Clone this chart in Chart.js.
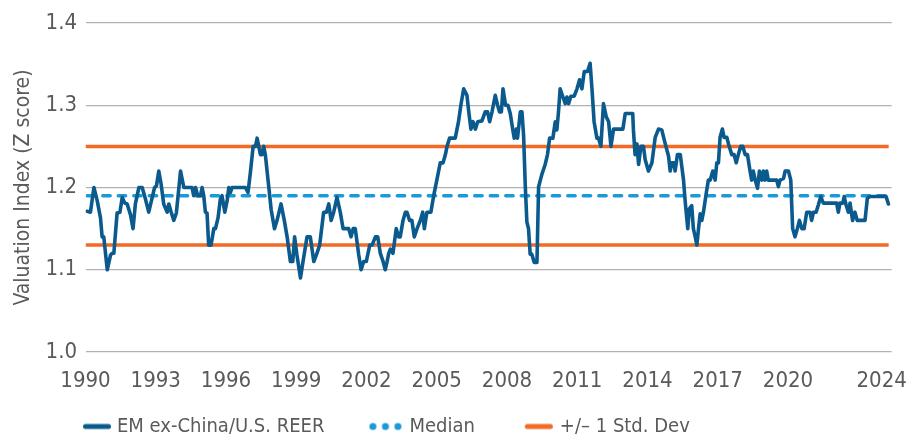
<!DOCTYPE html>
<html>
<head>
<meta charset="utf-8">
<script src="https://cdn.jsdelivr.net/npm/chart.js@4.4.1/dist/chart.umd.min.js"></script>
<style>
  html, body { margin: 0; padding: 0; background: #ffffff; }
  #wrap { width: 909px; height: 434px; }
</style>
</head>
<body>
<div id="wrap"><canvas id="chart" width="909" height="434"></canvas></div>
<script>
// ---------------- data ----------------
const reerYears = [
  1990.07,1990.21,1990.36,1990.50,1990.64,1990.71,1990.78,1990.93,1991.07,1991.14,1991.21,1991.35,1991.47,1991.57,1991.68,1991.78,1991.92,
  1992.03,1992.13,1992.28,1992.42,1992.56,1992.70,1992.85,1992.95,1993.03,1993.13,1993.23,1993.34,1993.49,1993.56,1993.66,1993.77,1993.88,
  1994.06,1994.20,1994.34,1994.55,1994.62,1994.70,1994.79,1994.91,1994.98,1995.05,1995.12,1995.19,1995.26,1995.36,1995.48,1995.55,1995.66,
  1995.76,1995.83,1995.95,1996.05,1996.12,1996.19,1996.26,1996.40,1996.83,1996.94,1997.04,1997.16,1997.26,1997.33,1997.40,1997.47,1997.54,
  1997.61,1997.68,1997.83,1997.93,1998.07,1998.18,1998.35,1998.49,1998.61,1998.75,1998.85,1998.93,1999.03,1999.18,1999.29,1999.46,1999.60,
  1999.75,1999.86,2000.00,2000.17,2000.29,2000.39,2000.49,2000.60,2000.74,2000.88,2001.00,2001.14,2001.24,2001.34,2001.43,2001.52,2001.67,
  2001.77,2001.88,2001.99,2002.14,2002.24,2002.38,2002.48,2002.59,2002.71,2002.80,2002.88,2002.95,2003.02,2003.13,2003.27,2003.37,2003.44,
  2003.56,2003.66,2003.73,2003.84,2003.94,2004.04,2004.16,2004.30,2004.40,2004.47,2004.58,2004.75,2004.87,2005.01,2005.15,2005.27,2005.37,
  2005.44,2005.55,2005.79,2005.93,2006.03,2006.15,2006.29,2006.36,2006.46,2006.55,2006.65,2006.75,2006.93,2007.07,2007.17,2007.26,2007.36,
  2007.50,2007.60,2007.68,2007.76,2007.83,2007.94,2008.04,2008.14,2008.25,2008.31,2008.40,2008.45,2008.57,2008.64,2008.71,2008.78,2008.85,
  2008.92,2008.99,2009.06,2009.16,2009.28,2009.35,2009.49,2009.63,2009.73,2009.82,2009.96,2010.06,2010.13,2010.20,2010.27,2010.39,2010.49,
  2010.56,2010.63,2010.73,2010.87,2010.99,2011.10,2011.20,2011.30,2011.44,2011.55,2011.63,2011.72,2011.84,2011.91,2012.01,2012.12,2012.24,
  2012.34,2012.44,2012.55,2012.95,2013.05,2013.37,2013.40,2013.47,2013.55,2013.62,2013.72,2013.83,2013.90,2014.04,2014.19,2014.33,2014.47,
  2014.61,2014.76,2014.90,2014.97,2015.04,2015.14,2015.18,2015.28,2015.40,2015.54,2015.61,2015.72,2015.79,2015.89,2015.96,2016.04,2016.11,
  2016.18,2016.25,2016.32,2016.39,2016.51,2016.60,2016.68,2016.79,2016.89,2016.96,2017.03,2017.10,2017.20,2017.27,2017.39,2017.46,2017.60,
  2017.70,2017.79,2017.88,2017.98,2018.07,2018.17,2018.27,2018.38,2018.45,2018.52,2018.60,2018.70,2018.78,2018.88,2018.95,2019.02,2019.09,
  2019.16,2019.52,2019.59,2019.66,2019.81,2019.88,2020.02,2020.12,2020.20,2020.30,2020.40,2020.49,2020.59,2020.69,2020.80,2020.94,2021.01,
  2021.09,2021.20,2021.30,2021.40,2021.51,2022.08,2022.15,2022.22,2022.34,2022.40,2022.48,2022.58,2022.65,2022.76,2022.86,2022.96,2023.29,
  2023.39,2023.50,2024.19,2024.29
];
const reerValues = [
  1.171,1.170,1.200,1.184,1.163,1.140,1.140,1.100,1.118,1.120,1.120,1.169,1.170,1.188,1.181,1.180,1.167,
  1.150,1.180,1.200,1.200,1.186,1.170,1.188,1.200,1.202,1.220,1.204,1.180,1.170,1.180,1.170,1.160,1.169,
  1.220,1.200,1.200,1.200,1.190,1.200,1.190,1.190,1.200,1.190,1.170,1.169,1.130,1.130,1.150,1.150,1.163,
  1.186,1.190,1.170,1.184,1.200,1.194,1.200,1.200,1.200,1.194,1.218,1.250,1.250,1.260,1.250,1.240,1.240,
  1.250,1.240,1.200,1.173,1.150,1.160,1.180,1.160,1.140,1.110,1.110,1.140,1.118,1.090,1.110,1.140,1.140,
  1.110,1.118,1.130,1.170,1.170,1.180,1.160,1.170,1.188,1.170,1.150,1.150,1.150,1.140,1.150,1.150,1.118,
  1.100,1.110,1.110,1.130,1.130,1.140,1.140,1.120,1.110,1.100,1.110,1.120,1.125,1.120,1.150,1.140,1.140,
  1.160,1.170,1.170,1.160,1.160,1.140,1.150,1.160,1.170,1.150,1.170,1.170,1.190,1.210,1.230,1.230,1.240,
  1.250,1.260,1.260,1.280,1.300,1.320,1.312,1.294,1.271,1.280,1.271,1.280,1.281,1.292,1.292,1.280,1.292,
  1.312,1.300,1.292,1.292,1.320,1.300,1.300,1.290,1.270,1.260,1.271,1.260,1.292,1.292,1.263,1.203,1.158,
  1.150,1.119,1.119,1.109,1.109,1.201,1.216,1.228,1.240,1.260,1.260,1.280,1.270,1.292,1.320,1.310,1.302,
  1.310,1.302,1.311,1.311,1.320,1.331,1.320,1.341,1.341,1.351,1.320,1.280,1.260,1.260,1.250,1.302,1.286,
  1.280,1.250,1.271,1.271,1.290,1.290,1.270,1.240,1.253,1.228,1.250,1.250,1.234,1.220,1.230,1.261,1.271,
  1.270,1.253,1.238,1.220,1.230,1.230,1.220,1.240,1.240,1.209,1.183,1.150,1.174,1.178,1.150,1.140,1.130,
  1.150,1.168,1.160,1.170,1.193,1.209,1.209,1.220,1.209,1.230,1.230,1.261,1.271,1.261,1.261,1.253,1.240,
  1.240,1.230,1.240,1.250,1.250,1.240,1.240,1.220,1.209,1.220,1.209,1.199,1.220,1.209,1.220,1.209,1.220,
  1.209,1.209,1.201,1.209,1.211,1.220,1.220,1.209,1.150,1.140,1.150,1.160,1.150,1.150,1.170,1.170,1.160,
  1.170,1.170,1.179,1.189,1.181,1.181,1.170,1.181,1.181,1.189,1.179,1.170,1.181,1.160,1.170,1.160,1.160,
  1.187,1.189,1.189,1.180
];
const medianValue = 1.19;
const stdDevUpper = 1.25;
const stdDevLower = 1.13;
const refLineYears = [1990, 2024.3];
const xTickYears = [1990, 1993, 1996, 1999, 2002, 2005, 2008, 2011, 2014, 2017, 2020, 2024];
const yTickValues = [1.0, 1.1, 1.2, 1.3, 1.4];
const seriesLabels = ['EM ex-China/U.S. REER', 'Median', '+/\u2013 1 Std. Dev'];
const yAxisTitle = 'Valuation Index (Z score)';

// ---------------- styling ----------------
const FONT = "'DejaVu Sans Condensed', 'Liberation Sans Narrow', sans-serif";
const TEXT = '#5a5a5a';
const C_MAIN = '#0b5a8e';
const C_MED = '#1a9ad6';
const C_STD = '#f26a24';
const LEG_BOX = 70;

Chart.defaults.font.family = FONT;
Chart.defaults.color = TEXT;

function makeMarker(kind, color, start, len) {
  const c = LEG_BOX / 2;
  const half = Math.ceil(Math.max(Math.abs(start - c), Math.abs(start + len - c))) + 4;
  const cv = document.createElement('canvas');
  cv.width = half * 2; cv.height = 12;
  const g = cv.getContext('2d');
  const ox = half - c;
  g.strokeStyle = color; g.fillStyle = color; g.lineCap = 'round';
  if (kind === 'line') {
    g.lineWidth = 5;
    g.beginPath(); g.moveTo(start + ox + 2.5, 6); g.lineTo(start + len + ox - 2.5, 6); g.stroke();
  } else {
    for (let i = 0; i < 3; i++) {
      g.beginPath(); g.arc(start + ox + 3.5 + i * 12.5, 6, 3.5, 0, Math.PI * 2); g.fill();
    }
  }
  return cv;
}
const markerMain = makeMarker('line', C_MAIN, 46, 28);
const markerMed = makeMarker('dots', C_MED, 40, 32);
const markerStd = makeMarker('line', C_STD, 45, 28);

const refData = v => refLineYears.map(x => ({ x: x, y: v }));

new Chart(document.getElementById('chart'), {
  type: 'line',
  data: {
    datasets: [
      { label: seriesLabels[0], data: reerYears.map((x, i) => ({ x: x, y: reerValues[i] })),
        borderColor: C_MAIN, borderWidth: 3.6, pointRadius: 0, tension: 0,
        borderJoinStyle: 'round', borderCapStyle: 'round', fill: false },
      { label: seriesLabels[1], data: refData(medianValue),
        borderColor: C_MED, borderWidth: 3.3, borderDash: [7.5, 8], borderCapStyle: 'round',
        borderDashOffset: -1.7, pointRadius: 0, fill: false },
      { label: seriesLabels[2], data: refData(stdDevUpper),
        borderColor: C_STD, borderWidth: 3.5, pointRadius: 0, fill: false },
      { label: seriesLabels[2] + ' (lower)', data: refData(stdDevLower),
        borderColor: C_STD, borderWidth: 3.5, pointRadius: 0, fill: false }
    ]
  },
  options: {
    responsive: false,
    animation: false,
    devicePixelRatio: 1,
    layout: { padding: { left: 32, right: 17.3, top: 23, bottom: 0 } },
    plugins: {
      tooltip: { enabled: false },
      legend: {
        position: 'bottom',
        align: 'start',
        maxHeight: 22.5,
        labels: {
          usePointStyle: true,
          pointStyleWidth: LEG_BOX,
          boxWidth: LEG_BOX,
          boxHeight: 20,
          padding: 5,
          color: TEXT,
          font: { size: 20, family: FONT },
          generateLabels: () => [
            { text: seriesLabels[0], pointStyle: markerMain, fillStyle: C_MAIN, strokeStyle: C_MAIN, lineWidth: 0, hidden: false, datasetIndex: 0, fontColor: TEXT },
            { text: seriesLabels[1], pointStyle: markerMed, fillStyle: C_MED, strokeStyle: C_MED, lineWidth: 0, hidden: false, datasetIndex: 1, fontColor: TEXT },
            { text: seriesLabels[2], pointStyle: markerStd, fillStyle: C_STD, strokeStyle: C_STD, lineWidth: 0, hidden: false, datasetIndex: 2, fontColor: TEXT }
          ]
        }
      }
    },
    scales: {
      x: {
        type: 'linear',
        min: 1990,
        max: 2024.43,
        grid: { display: false, drawTicks: false },
        border: { display: false },
        ticks: { autoSkip: false, maxRotation: 0, padding: 16.3, color: TEXT,
                 font: { size: 22, family: FONT }, callback: v => String(v) },
        afterBuildTicks: s => { s.ticks = xTickYears.map(v => ({ value: v })); },
        afterFit: s => { s.height = 59.5; s.paddingLeft = 0; s.paddingRight = 0; }
      },
      y: {
        min: 1.0,
        max: 1.4,
        grid: { color: '#b2b2b2', lineWidth: 1.3, drawTicks: false },
        border: { display: false },
        ticks: { padding: 8.5, color: TEXT, font: { size: 22, family: FONT },
                 callback: v => Number(v).toFixed(1) },
        afterBuildTicks: s => { s.ticks = yTickValues.map(v => ({ value: v })); },
        title: { display: true, text: yAxisTitle, color: TEXT,
                 font: { size: 21, family: FONT }, padding: { top: -20.6, bottom: 0 } },
        afterFit: s => { s.width = 53.5; s.paddingTop = 0; s.paddingBottom = 0; }
      }
    }
  }
});
</script>
</body>
</html>
